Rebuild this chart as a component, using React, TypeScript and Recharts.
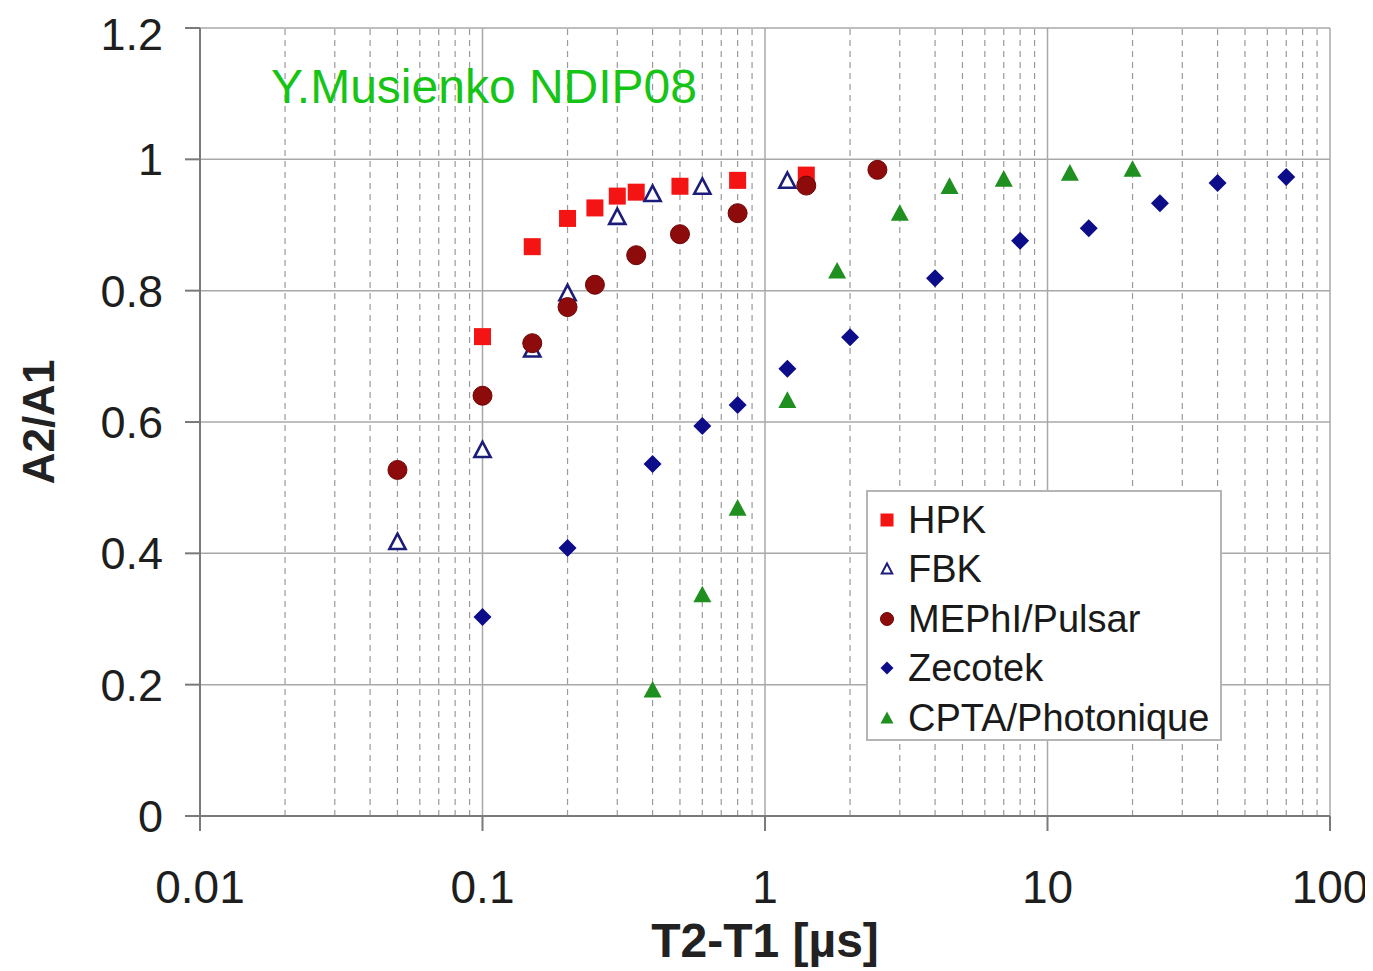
import React from "react";
import {
  ScatterChart,
  Scatter,
  XAxis,
  YAxis,
  CartesianGrid,
  ReferenceLine,
  Legend,
  Label,
} from "recharts";

// T2-T1 in microseconds, A2/A1 ratio
const hpkX = [0.1, 0.15, 0.2, 0.25, 0.3, 0.35, 0.5, 0.8, 1.4];
const hpkY = [0.73, 0.867, 0.91, 0.926, 0.944, 0.95, 0.959, 0.968, 0.976];

const fbkX = [0.05, 0.1, 0.15, 0.2, 0.3, 0.4, 0.6, 1.2];
const fbkY = [0.417, 0.557, 0.71, 0.796, 0.912, 0.947, 0.958, 0.967];

const mephiX = [0.05, 0.1, 0.15, 0.2, 0.25, 0.35, 0.5, 0.8, 1.4, 2.5];
const mephiY = [0.527, 0.64, 0.72, 0.775, 0.809, 0.854, 0.886, 0.918, 0.96, 0.984];

const zecotekX = [0.1, 0.2, 0.4, 0.6, 0.8, 1.2, 2, 4, 8, 14, 25, 40, 70];
const zecotekY = [0.303, 0.408, 0.536, 0.594, 0.626, 0.681, 0.729, 0.819, 0.876, 0.895, 0.933, 0.964, 0.973];

const cptaX = [0.4, 0.6, 0.8, 1.2, 1.8, 3, 4.5, 7, 12, 20];
const cptaY = [0.192, 0.337, 0.469, 0.633, 0.83, 0.918, 0.959, 0.97, 0.979, 0.985];

const xTicks = [0.01, 0.1, 1, 10, 100];
const yTicks = [0, 0.2, 0.4, 0.6, 0.8, 1, 1.2];
const decades = [0.01, 0.1, 1, 10];
const minorSteps = [2, 3, 4, 5, 6, 7, 8, 9];
const minorX = decades.flatMap((d) => minorSteps.map((m) => +(d * m).toPrecision(3)));

const zip = (xs: number[], ys: number[]) => xs.map((x, i) => ({ x, y: ys[i] }));

const FONT = "'Liberation Sans', Arial, Helvetica, sans-serif";

type Kind = "square" | "openTri" | "circle" | "diamond" | "tri";

const Marker = ({ kind, cx, cy, s }: { kind: Kind; cx: number; cy: number; s: number }) => {
  const h = s / 2;
  switch (kind) {
    case "square":
      return <rect x={cx - h} y={cy - h} width={s} height={s} fill="#f41414" />;
    case "openTri":
      return (
        <polygon
          points={`${cx},${cy - h} ${cx + h * 0.95},${cy + h * 0.8} ${cx - h * 0.95},${cy + h * 0.8}`}
          fill="#fff"
          stroke="#1c1c7a"
          strokeWidth={s > 12 ? 2.6 : 2}
        />
      );
    case "circle":
      return <circle cx={cx} cy={cy} r={h} fill="#8e0b0b" stroke="#6e0606" strokeWidth={1} />;
    case "diamond":
      return (
        <polygon
          points={`${cx},${cy - h} ${cx + h},${cy} ${cx},${cy + h} ${cx - h},${cy}`}
          fill="#0d0d8a"
        />
      );
    default:
      return (
        <polygon
          points={`${cx},${cy - h} ${cx + h},${cy + h * 0.85} ${cx - h},${cy + h * 0.85}`}
          fill="#1f8f1f"
        />
      );
  }
};

const series: { name: string; kind: Kind; color: string; data: { x: number; y: number }[]; size: number }[] = [
  { name: "HPK", kind: "square", color: "#f41414", data: zip(hpkX, hpkY), size: 17 },
  { name: "FBK", kind: "openTri", color: "#1c1c7a", data: zip(fbkX, fbkY), size: 17 },
  { name: "MEPhI/Pulsar", kind: "circle", color: "#8e0b0b", data: zip(mephiX, mephiY), size: 19 },
  { name: "Zecotek", kind: "diamond", color: "#0d0d8a", data: zip(zecotekX, zecotekY), size: 18 },
  { name: "CPTA/Photonique", kind: "tri", color: "#1f8f1f", data: zip(cptaX, cptaY), size: 18 },
];

const renderLegend = () => (
  <div
    style={{
      width: 356,
      height: 251,
      boxSizing: "border-box",
      border: "2px solid #b5b5b5",
      background: "#fff",
      paddingTop: 3,
      fontFamily: FONT,
    }}
  >
    {series.map((s) => (
      <div key={s.name} style={{ display: "flex", alignItems: "center", height: 49.5 }}>
        <svg width={40} height={30} style={{ flex: "none" }}>
          <Marker kind={s.kind} cx={19} cy={15} s={s.kind === "openTri" ? 11 : 13} />
        </svg>
        <span style={{ fontSize: 38, color: "#1a1a1a", lineHeight: "40px" }}>{s.name}</span>
      </div>
    ))}
  </div>
);

export default function App() {
  return (
    <div style={{ position: "relative", width: 1365, height: 963, fontFamily: FONT, background: "#fff" }}>
      <ScatterChart width={1365} height={963} margin={{ top: 20, right: 43, bottom: 0, left: 0 }}>
        <CartesianGrid stroke="#a8a8a8" strokeWidth={1.5} />
        {minorX.map((v) => (
          <ReferenceLine key={v} x={v} stroke="#9a9a9a" strokeWidth={1.2} strokeDasharray="6 5" ifOverflow="hidden" />
        ))}
        <XAxis
          type="number"
          dataKey="x"
          scale="log"
          domain={[0.01, 100]}
          ticks={xTicks}
          allowDataOverflow
          height={155}
          tickSize={15}
          tickMargin={39}
          stroke="#7a7a7a"
          strokeWidth={2}
          tick={{ fontSize: 46, fill: "#1e1e1e", fontFamily: FONT }}
        >
          <Label
            value="T2-T1 [µs]"
            position="insideBottom"
            offset={14}
            style={{ fontSize: 48, fontWeight: 700, fill: "#222", fontFamily: FONT }}
          />
        </XAxis>
        <YAxis
          type="number"
          dataKey="y"
          domain={[0, 1.2]}
          ticks={yTicks}
          width={192}
          tickSize={15}
          tickMargin={22}
          stroke="#7a7a7a"
          strokeWidth={2}
          tick={{ fontSize: 45, fill: "#1e1e1e", fontFamily: FONT }}
        >
          <Label
            value="A2/A1"
            position="insideLeft"
            angle={-90}
            offset={30}
            style={{ fontSize: 44, fontWeight: 700, fill: "#222", fontFamily: FONT, textAnchor: "middle" }}
          />
        </YAxis>
        {series.map((s) => (
          <Scatter
            key={s.name}
            name={s.name}
            data={s.data}
            fill={s.color}
            isAnimationActive={false}
            shape={(p: any) => <Marker kind={s.kind} cx={p.cx} cy={p.cy} s={s.size} />}
          />
        ))}
        <Legend
          layout="vertical"
          align="center"
          verticalAlign="middle"
          content={renderLegend}
          wrapperStyle={{ left: 858, top: 482, width: 356, height: 251 }}
        />
      </ScatterChart>
      <div
        style={{
          position: "absolute",
          left: 263,
          top: 52,
          fontSize: 48,
          color: "#16c416",
          fontFamily: FONT,
          lineHeight: "54px",
          whiteSpace: "nowrap",
        }}
      >
        Y.Musienko NDIP08
      </div>
    </div>
  );
}
